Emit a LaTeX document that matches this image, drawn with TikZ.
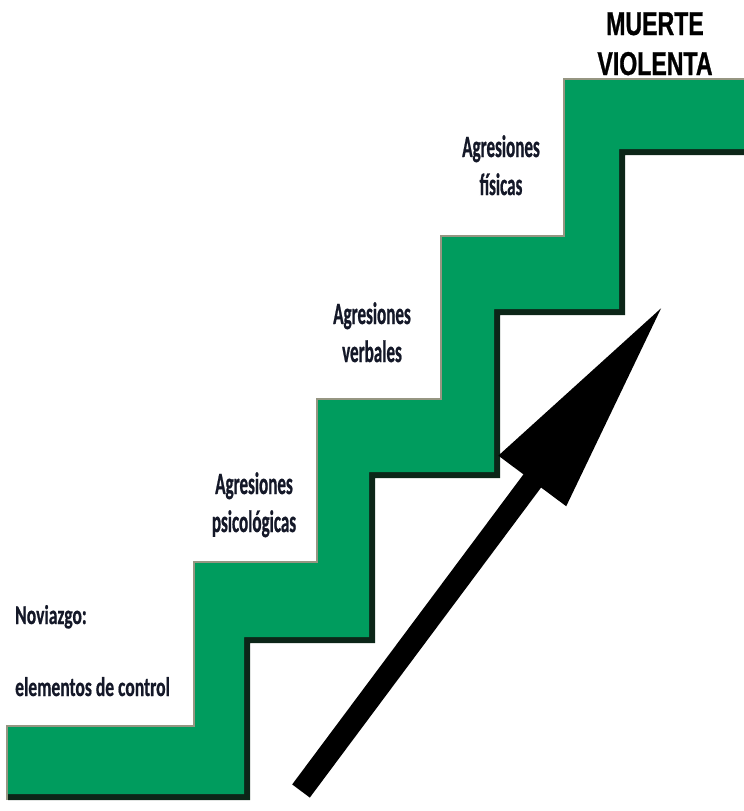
\documentclass[tikz,border=0pt]{standalone}
\usepackage{fontspec}
\usepackage{tikz}
\usetikzlibrary{arrows.meta}
\newfontfamily\labelfont[FakeStretch=0.55,FakeBold=0.7]{Carlito}
\newfontfamily\leftfont[FakeStretch=0.65,FakeBold=0.6]{Carlito}
\newfontfamily\titlefont[FakeStretch=0.7,FakeBold=0.8]{Liberation Sans}
\definecolor{stepgreen}{RGB}{0,156,94}
\definecolor{stepdark}{RGB}{12,38,24}
\definecolor{stepedge}{RGB}{150,150,130}
\definecolor{labelink}{RGB}{20,24,40}

\begin{document}
\begin{tikzpicture}[x=1pt,y=-1pt,
    steplabel/.style={align=center,anchor=base,text=labelink,inner sep=0pt,
      font=\labelfont\bfseries\fontsize{31}{38}\selectfont},
    startlabel/.style={anchor=base west,text=labelink,inner sep=0pt,
      font=\leftfont\bfseries\fontsize{27}{30}\selectfont},
    goal/.style={align=center,anchor=base,inner sep=0pt,
      font=\titlefont\bfseries\fontsize{33}{40}\selectfont}]
    \useasboundingbox (0,0) rectangle (744,811);
    \clip (0,0) rectangle (744,811);
    % the stairs
    \def\stairs{(8,727) -- (195,727) -- (195,563) -- (318,563) -- (318,400)
      -- (442,400) -- (442,237) -- (565,237) -- (565,80) -- (760,80)
      -- (760,155) -- (625,155) -- (625,315) -- (500,315) -- (500,478)
      -- (375,478) -- (375,643) -- (250,643) -- (250,800) -- (8,800) -- cycle}
    \draw[stepedge,line width=5pt] (8,800) -- (8,727) -- (195,727) -- (195,563)
      -- (318,563) -- (318,400) -- (442,400) -- (442,237) -- (565,237)
      -- (565,80) -- (760,80);
    \fill[stepdark] \stairs;
    \begin{scope}
      \clip \stairs;
      \fill[stepgreen,shift={(-6,-6)}] \stairs;
    \end{scope}
    % labels (base = last line)
    \node[steplabel] (fisicas) at (501,195) {Agresiones\\físicas};
    \node[steplabel] (verbales) at (372,362) {Agresiones\\verbales};
    \node[steplabel] (psico) at (254,532) {Agresiones\\psicológicas};
    \node[startlabel] (noviazgo) at (15,624) {Noviazgo:};
    \node[startlabel] (control) at (15,696) {elementos de control};
    \node[goal] (muerte) at (655,75) {MUERTE\\VIOLENTA};
    % arrow
    \coordinate (tail) at (301,791);
    \coordinate (tip) at (665,303);
    \draw[line width=22pt,-{Triangle[length=222pt,width=78pt]}] (tail) -- (tip);
\end{tikzpicture}
\end{document}
